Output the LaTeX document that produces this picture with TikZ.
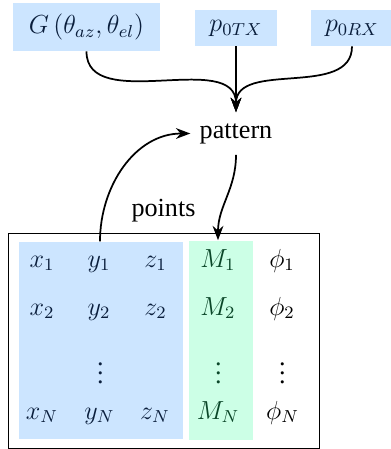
\documentclass[12pt,tikz,border=0pt]{standalone}
\usepackage{fontspec}
\setmainfont{Liberation Serif}
\usetikzlibrary{arrows.meta,calc}

\definecolor{inblue}{RGB}{204,229,255}
\definecolor{inbluetext}{RGB}{10,30,60}
\definecolor{ingreen}{RGB}{204,255,230}
\definecolor{ingreentext}{RGB}{10,70,40}

% one drawing unit in points
\def\pxu{0.4594pt}

\tikzset{
  inbox/.style={fill=inblue, text=inbluetext, inner sep=0pt},
  cell/.style={anchor=base, inner sep=0pt},
  flow/.style={thick, -{Stealth}},
}

\begin{document}
\begin{tikzpicture}[x=\pxu, y=-\pxu]
\useasboundingbox (0,0) rectangle (391,449);

% input boxes
\node[inbox, minimum width=147*\pxu, minimum height=48*\pxu] (G) at (86.5,27)
  {$G\left(\theta_{az},\theta_{el}\right)$};
\node[inbox, minimum width=82*\pxu, minimum height=36*\pxu] (ptx) at (236,28) {$p_{0TX}$};
\node[inbox, minimum width=82*\pxu, minimum height=36*\pxu] (prx) at (352,28) {$p_{0RX}$};

% central pattern node
\node[inner xsep=9*\pxu, inner ysep=0pt, minimum height=42*\pxu] (pattern) at (236,133.5) {pattern};

% table of points
\node[draw, inner sep=0pt, minimum width=311*\pxu, minimum height=215*\pxu] (box) at (163.5,340.5) {};
\node[fill=inblue, inner sep=0pt, minimum width=164*\pxu, minimum height=197.6*\pxu] (blue) at (101.3,340.5) {};
\node[fill=ingreen, inner sep=0pt, minimum width=63.4*\pxu, minimum height=199.3*\pxu] (green) at (221,340.3) {};
\node[anchor=base] (points) at (163.5,216.5) {points};

% cells
\begin{scope}[every node/.style={cell}]
  \node[text=inbluetext] (x1) at (42,267) {$x_1$};
  \node[text=inbluetext] (y1) at (99,267) {$y_1$};
  \node[text=inbluetext] (z1) at (155.5,267) {$z_1$};
  \node[text=ingreentext] (M1) at (218,267) {$M_1$};
  \node (p1) at (282,267) {$\phi_1$};

  \node[text=inbluetext] (x2) at (42,315) {$x_2$};
  \node[text=inbluetext] (y2) at (99,315) {$y_2$};
  \node[text=inbluetext] (z2) at (155.5,315) {$z_2$};
  \node[text=ingreentext] (M2) at (218,315) {$M_2$};
  \node (p2) at (282,315) {$\phi_2$};

  \node[text=inbluetext] (yd) at (100.5,383) {$\vdots$};
  \node[text=ingreentext] (Md) at (218.3,383) {$\vdots$};
  \node (pd) at (282.5,383) {$\vdots$};

  \node[text=inbluetext] (xN) at (42,419) {$x_N$};
  \node[text=inbluetext] (yN) at (99.5,419) {$y_N$};
  \node[text=inbluetext] (zN) at (155,419) {$z_N$};
  \node[text=ingreentext] (MN) at (218,419) {$M_N$};
  \node (pN) at (282.5,419) {$\phi_N$};
\end{scope}

% connectors
\coordinate (ystart) at (100,0 |- blue.north);
\coordinate (mend) at (218,0 |- green.north);

\draw[flow] (G.south) to[out=-90, in=90] (pattern.north);
\draw[flow] (ptx.south) -- (pattern.north);
\draw[flow] (prx.south) to[out=-90, in=90] (pattern.north);
\draw[flow] (ystart) to[out=90, in=180] (pattern.west);
\draw[flow] (pattern.south) to[out=-90, in=90] (mend);
\end{tikzpicture}
\end{document}
